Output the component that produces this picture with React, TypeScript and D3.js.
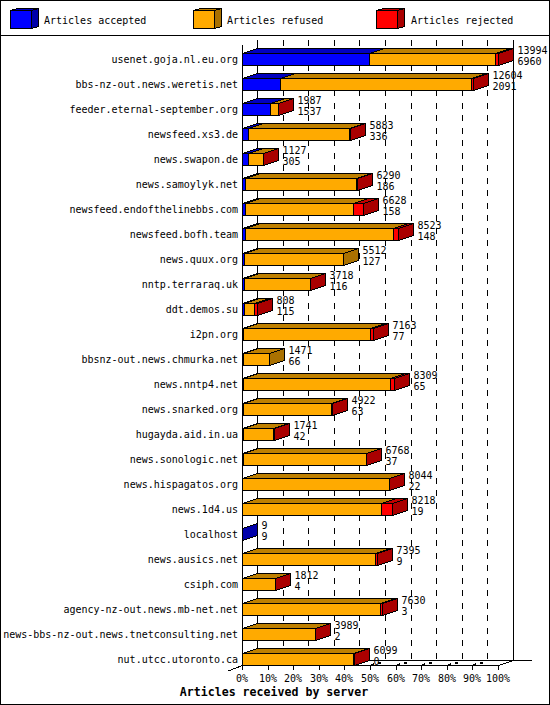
import * as React from 'react';
import * as d3 from 'd3';

const servers = [
  'usenet.goja.nl.eu.org', 'bbs-nz-out.news.weretis.net', 'feeder.eternal-september.org',
  'newsfeed.xs3.de', 'news.swapon.de', 'news.samoylyk.net', 'newsfeed.endofthelinebbs.com',
  'newsfeed.bofh.team', 'news.quux.org', 'nntp.terraraq.uk', 'ddt.demos.su', 'i2pn.org',
  'bbsnz-out.news.chmurka.net', 'news.nntp4.net', 'news.snarked.org', 'hugayda.aid.in.ua',
  'news.sonologic.net', 'news.hispagatos.org', 'news.1d4.us', 'localhost', 'news.ausics.net',
  'csiph.com', 'agency-nz-out.news.mb-net.net', 'news-bbs-nz-out.news.tnetconsulting.net',
  'nut.utcc.utoronto.ca',
];
const totals = [13994, 12604, 1987, 5883, 1127, 6290, 6628, 8523, 5512, 3718, 808, 7163, 1471, 8309, 4922, 1741, 6768, 8044, 8218, 9, 7395, 1812, 7630, 3989, 6099];
const accepted = [6960, 2091, 1537, 336, 305, 186, 158, 148, 127, 116, 115, 77, 66, 65, 63, 42, 37, 22, 19, 9, 9, 4, 3, 2, 0];
// read off the front faces, so only roughly
const rejected = [150, 100, 10, 10, 5, 40, 547, 270, 0, 20, 160, 150, 0, 210, 40, 20, 10, 20, 600, 0, 130, 5, 100, 5, 5];
const percentTicks = [0, 10, 20, 30, 40, 50, 60, 70, 80, 90, 100];
const legendItems = ['Articles accepted', 'Articles refused', 'Articles rejected'];

const FRONT = ['#0000ff', '#ffaa00', '#ff0000'];
const TOP = ['#0000c0', '#bf8000', '#c00000'];
const SIDE = ['#0000aa', '#aa7100', '#aa0000'];

const WIDTH = 550;
const HEIGHT = 705;
const DX = 15;
const DY = 5;
const BAR_H = 12;
const FLOOR_Y = 665.5;
const BACK_Y = 660.5;
const TOP_Y = 40;
const mono = '"DejaVu Sans Mono", monospace';

const x = d3.scaleLinear().domain([0, 13994]).range([242, 498]);
const pct = d3.scaleLinear().domain([0, 100]).range([242, 498]);
const y = d3.scalePoint<string>().domain(servers).range([53, 653]);

const px = (v: number) => Math.round(v) + 0.5;

function Bar({ i }: { i: number }) {
  const top = (y(servers[i]) as number) + 0.5;
  const bottom = top + BAR_H;
  const a = accepted[i];
  const r = rejected[i];
  const edges = [0, a, totals[i] - r, totals[i]].map((v) => px(x(v)));
  const last = r > 0 ? 2 : totals[i] - a - r > 0 ? 1 : 0;
  const end = edges[last + 1];
  return (
    <g stroke="#000" strokeWidth={1}>
      {[0, 1, 2].map((k) => {
        const x0 = edges[k];
        const x1 = edges[k + 1];
        if (x1 <= x0) return null;
        return (
          <g key={k}>
            <polygon
              points={`${x0},${top} ${x0 + DX},${top - DY} ${x1 + DX},${top - DY} ${x1},${top}`}
              fill={TOP[k]}
            />
            <rect x={x0} y={top} width={x1 - x0} height={BAR_H} fill={FRONT[k]} />
          </g>
        );
      })}
      <polygon
        points={`${end},${top} ${end + DX},${top - DY} ${end + DX},${bottom - DY} ${end},${bottom}`}
        fill={SIDE[last]}
      />
    </g>
  );
}

function LegendBox({ at, k }: { at: number; k: number }) {
  return (
    <g stroke="#000">
      <polygon points={`${at},10.5 ${at + 7},8.5 ${at + 28},8.5 ${at + 21},10.5`} fill={TOP[k]} />
      <polygon points={`${at + 21},10.5 ${at + 28},8.5 ${at + 28},26.5 ${at + 21},28.5`} fill={SIDE[k]} />
      <rect x={at} y={10.5} width={21} height={18} fill={FRONT[k]} />
    </g>
  );
}

export default function App() {
  const legendX = [10.5, 193.5, 376.5];
  const textX = [44, 227, 411];
  return (
    <svg
      width={WIDTH}
      height={HEIGHT}
      shapeRendering="crispEdges"
      style={{ position: 'absolute', left: 0, top: 0, background: '#fff' }}
      fontFamily={mono}
      fontSize={10}
    >
      <rect x={0.5} y={0.5} width={WIDTH - 1} height={HEIGHT - 1} fill="#fff" stroke="#000" />
      <line x1={0} x2={WIDTH} y1={35.5} y2={35.5} stroke="#000" />

      {legendItems.map((label, k) => (
        <g key={label}>
          <LegendBox at={legendX[k]} k={k} />
          <text x={textX[k]} y={20} dominantBaseline="central">{label}</text>
        </g>
      ))}

      {/* back wall */}
      {percentTicks.map((t) => {
        const bx = px(pct(t)) + DX;
        const solid = t === 0 || t === 100;
        return (
          <line
            key={t}
            x1={bx}
            x2={bx}
            y1={TOP_Y}
            y2={BACK_Y}
            stroke="#000"
            strokeDasharray={solid ? undefined : '6 6.5'}
          />
        );
      })}
      <line x1={px(242)} x2={px(242)} y1={45} y2={670} stroke="#000" />
      <line x1={px(242) + DX} x2={532} y1={BACK_Y} y2={BACK_Y} stroke="#000" />
      <line x1={px(242)} x2={px(498)} y1={FLOOR_Y} y2={FLOOR_Y} stroke="#000" />
      <line x1={228} x2={px(242)} y1={671} y2={FLOOR_Y} stroke="#000" />
      <line x1={px(498)} x2={px(498) + DX} y1={FLOOR_Y} y2={BACK_Y} stroke="#000" />

      {/* floor ticks */}
      {percentTicks.map((t) => {
        const fx = px(pct(t));
        return (
          <g key={t} stroke="#000">
            <line x1={fx} x2={fx} y1={FLOOR_Y} y2={670} />
            {t > 0 && t < 100 && (
              <>
                <line x1={fx} x2={fx + 4} y1={FLOOR_Y} y2={FLOOR_Y - 2} />
                <rect x={fx + 7} y={FLOOR_Y - 4} width={3} height={2} stroke="none" fill="#000" />
              </>
            )}
            <text
              x={fx - 0.5}
              y={678}
              textAnchor="middle"
              dominantBaseline="central"
              stroke="none"
              fill="#000"
            >
              {t}%
            </text>
          </g>
        );
      })}

      {servers.map((_, i) => <Bar key={i} i={i} />)}

      {servers.map((name, i) => {
        const top = y(name) as number;
        const labelX = px(x(totals[i])) + DX + 4;
        return (
          <g key={name} dominantBaseline="central">
            <text x={238} y={top + 6} textAnchor="end">{name}</text>
            <text x={labelX} y={top - 3}>{totals[i]}</text>
            <text x={labelX} y={top + 8}>{accepted[i]}</text>
          </g>
        );
      })}

      <text
        x={274}
        y={692}
        textAnchor="middle"
        dominantBaseline="central"
        fontWeight="bold"
        fontSize={11.6}
      >
        Articles received by server
      </text>
    </svg>
  );
}
